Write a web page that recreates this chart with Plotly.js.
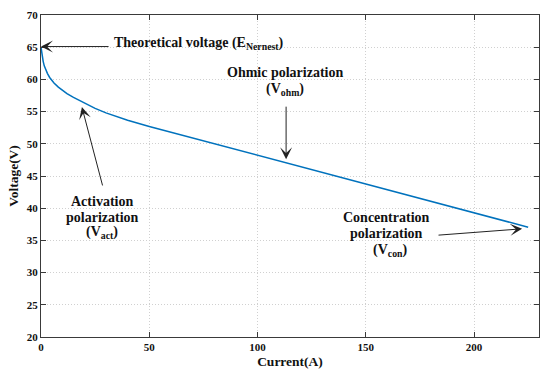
<!DOCTYPE html>
<html>
<head>
<meta charset="utf-8">
<script src="https://cdn.plot.ly/plotly-3.0.1.min.js"></script>
<style>html,body{margin:0;padding:0;background:#fff}#chart{width:550px;height:376px}</style>
</head>
<body>
<div id="chart"></div>
<script>
// Data
const current = [0, 0.25, 0.5, 1, 1.5, 2, 2.5, 3, 4, 5, 6, 8, 10, 12, 15, 20, 25, 30, 35, 40, 50, 60, 70, 80, 90, 100, 110, 120, 130, 140, 150, 160, 170, 180, 190, 200, 210, 220, 225];
const voltage = [65, 64.3, 63.7, 62.8, 62.1, 61.6, 61.2, 60.9, 60.3, 59.85, 59.45, 58.8, 58.25, 57.8, 57.2, 56.3, 55.5, 54.8, 54.2, 53.65, 52.7, 51.8, 50.9, 50.0, 49.15, 48.3, 47.4, 46.5, 45.6, 44.7, 43.8, 42.9, 42.0, 41.1, 40.2, 39.3, 38.4, 37.5, 37.05];
const xTicks = [0, 50, 100, 150, 200];
const yTicks = [20, 25, 30, 35, 40, 45, 50, 55, 60, 65, 70];
const xLabel = 'Current(A)';
const yLabel = 'Voltage(V)';
// annotation text lines (one entry per printed line)
const noteLines = [
  {text: 'Theoretical voltage (E<sub>Nernest</sub>)', x: 32.8, y: 65.5, xanchor: 'left'},
  {text: 'Ohmic polarization', x: 112.7, y: 61.0, xanchor: 'center'},
  {text: '(V<sub>ohm</sub>)', x: 112.7, y: 58.4, xanchor: 'center'},
  {text: 'Activation', x: 28.2, y: 41.0, xanchor: 'center'},
  {text: 'polarization', x: 28.2, y: 38.6, xanchor: 'center'},
  {text: '(V<sub>act</sub>)', x: 28.2, y: 36.2, xanchor: 'center'},
  {text: 'Concentration', x: 159.5, y: 38.6, xanchor: 'center'},
  {text: 'polarization', x: 159.5, y: 36.1, xanchor: 'center'},
  {text: '(V<sub>con</sub>)', x: 161, y: 33.5, xanchor: 'center'}
];
const arrows = [
  {from: [31.9, 65.1], to: [0, 65.1]},
  {from: [113.2, 56.0], to: [113.2, 47.6]},
  {from: [28.6, 43.3], to: [18.9, 55.7]},
  {from: [182.9, 35.8], to: [222.2, 36.8]}
];

const serif = 'Liberation Serif';
const annotations = [];
noteLines.forEach(n => annotations.push({
  text: '<b>' + n.text + '</b>', x: n.x, y: n.y, xref: 'x', yref: 'y', xanchor: n.xanchor, yanchor: 'middle',
  showarrow: false, align: 'center',
  font: {family: serif, size: 14, color: '#111'}
}));
arrows.forEach(a => annotations.push({
  text: '', x: a.to[0], y: a.to[1], ax: a.from[0], ay: a.from[1], xref: 'x', yref: 'y', axref: 'x', ayref: 'y',
  showarrow: true, arrowhead: 3, arrowsize: 2, arrowwidth: 1, arrowcolor: '#222', standoff: 0
}));

const trace = {
  x: current, y: voltage, type: 'scatter', mode: 'lines',
  line: {color: '#0072BD', width: 1.5}, hoverinfo: 'skip'
};

const axisCommon = {
  showline: true, mirror: 'ticks', linecolor: '#3a3a3a', linewidth: 1,
  ticks: 'inside', ticklen: 5, tickcolor: '#3a3a3a', tickwidth: 1,
  showgrid: true, gridcolor: '#d0d0d0', griddash: '1px,2px', gridwidth: 1,
  zeroline: false, automargin: false,
  tickfont: {family: serif, size: 11, color: '#111', weight: 'bold'}
};

const layout = {
  width: 550, height: 376,
  margin: {l: 41, r: 11, t: 15, b: 39},
  paper_bgcolor: '#fff', plot_bgcolor: '#fff',
  showlegend: false,
  xaxis: Object.assign({}, axisCommon, {
    range: [0, 230], tickvals: xTicks, ticktext: xTicks.map(String),
    title: {text: '<b>' + xLabel + '</b>', standoff: 4, font: {family: serif, size: 13.5, color: '#111'}}
  }),
  yaxis: Object.assign({}, axisCommon, {
    range: [20, 70], tickvals: yTicks, ticktext: yTicks.map(String),
    title: {text: '<b>' + yLabel + '</b>', standoff: 5, font: {family: serif, size: 13.5, color: '#111'}}
  }),
  annotations: annotations
};

Plotly.newPlot('chart', [trace], layout, {staticPlot: true, displayModeBar: false});
</script>
</body>
</html>
